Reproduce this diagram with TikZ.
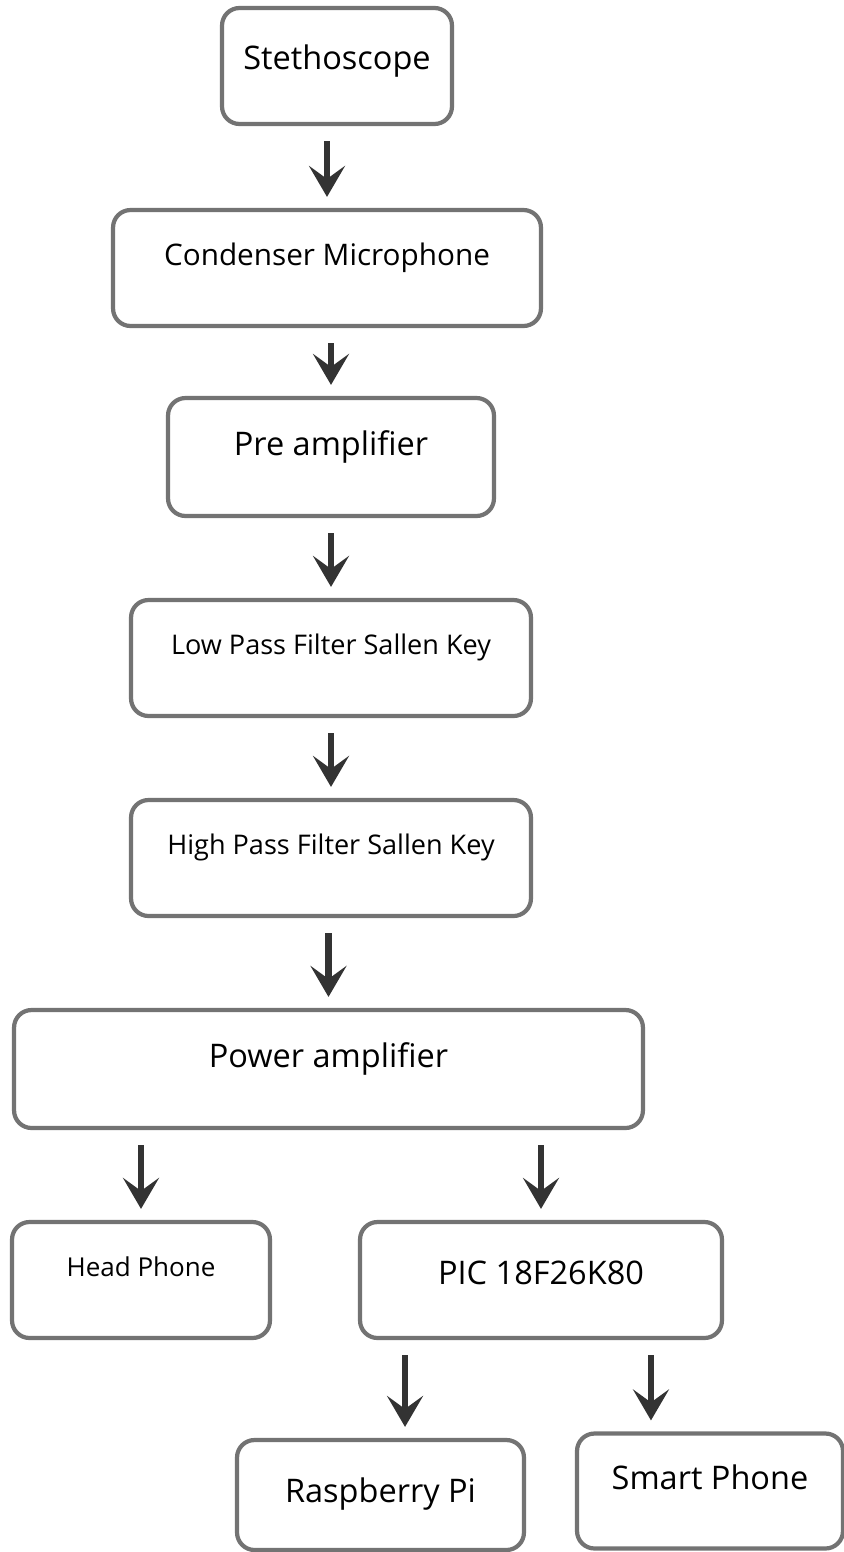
\documentclass[tikz,border=0pt]{standalone}
\usepackage{fontspec}
\setmainfont{Open Sans}
\usepackage{tikz}
\usetikzlibrary{arrows.meta, positioning}
\tikzset{
    block/.style = {rectangle, rounded corners=0.35cm, draw=black!55, line width=2.4pt, align=center, minimum height=2.32cm, text depth=0.55cm, font=\fontsize{18.5}{22}\selectfont}, % the gray boxes of the chain
    small/.style = {font=\fontsize{15.4}{18}\selectfont},
    flow/.style = {-{Stealth[length=0.62cm, width=0.72cm, inset=0.26cm]}, line width=3.6pt, draw=black!80, shorten <=0.3cm, shorten >=0.22cm}
}
\begin{document}
\begin{tikzpicture}[x=0.02cm, y=-0.02cm]
    \useasboundingbox (0,0) rectangle (844,1552);
    % signal chain
    \node[block, minimum width=4.6cm, text depth=0.35cm] (steth) at (337,66) {Stethoscope};
    \node[block, minimum width=8.56cm, font=\fontsize{16.9}{20}\selectfont] (mic) at (327,268) {Condenser Microphone};
    \node[block, minimum width=6.52cm, minimum height=2.36cm] (preamp) at (331,457) {Pre amplifier};
    \node[block, small, minimum width=8cm] (lpf) at (331,658) {Low Pass Filter Sallen Key};
    \node[block, small, minimum width=8cm] (hpf) at (331,858) {High Pass Filter Sallen Key};
    \node[block, minimum width=12.58cm, minimum height=2.36cm] (poweramp) at (328.5,1069) {Power amplifier};
    % outputs
    \node[block, minimum width=5.16cm, font=\fontsize{14.8}{18}\selectfont] (headphone) at (141,1280) {Head Phone};
    \node[block, minimum width=7.24cm, text depth=0.3cm] (pic) at (541,1280) {PIC 18F26K80};
    \node[block, minimum width=5.74cm, minimum height=2.2cm, text depth=0.2cm] (rpi) at (380.5,1495) {Raspberry Pi};
    \node[block, minimum width=5.32cm, minimum height=2.3cm] (phone) at (710,1491) {Smart Phone};

    \draw[flow] (steth.south -| mic.north) -- (mic.north);
    \draw[flow] (mic.south -| preamp.north) -- (preamp.north);
    \draw[flow] (preamp.south -| lpf.north) -- (lpf.north);
    \draw[flow] (lpf.south -| hpf.north) -- (hpf.north);
    \draw[flow] (hpf.south -| poweramp.north) -- (poweramp.north);
    \draw[flow] (poweramp.south -| headphone.north) -- (headphone.north);
    \draw[flow] (poweramp.south -| pic.north) -- (pic.north);
    \draw[flow] ([xshift=-2.72cm]pic.south) -- ([xshift=-2.72cm]pic.south |- rpi.north);
    \draw[flow] ([xshift=2.2cm]pic.south) -- ([xshift=2.2cm]pic.south |- phone.north);
\end{tikzpicture}
\end{document}
